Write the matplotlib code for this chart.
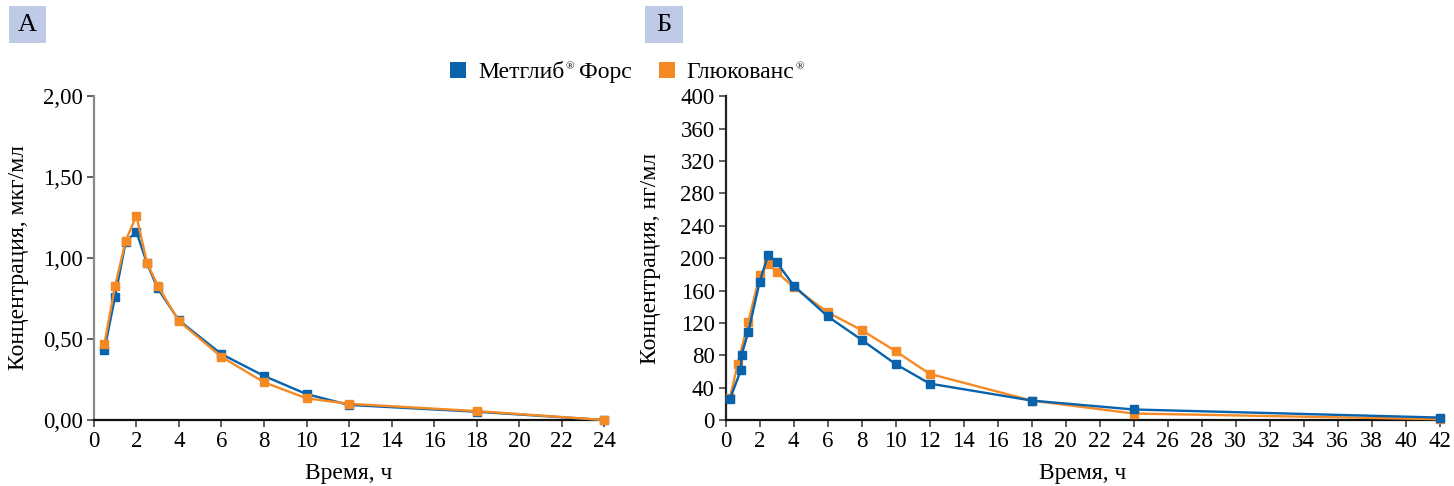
import matplotlib
matplotlib.use("Agg")
import matplotlib.pyplot as plt
from matplotlib.patches import Rectangle
from matplotlib.ticker import FuncFormatter

plt.rcParams['font.family'] = ['Liberation Serif', 'DejaVu Serif']

# ---- data: panel A (metformin, mcg/ml) ----
a_time_blue = [0.5, 1, 1.5, 2, 2.5, 3, 4, 6, 8, 10, 12, 18, 24]
a_blue = [0.435, 0.762, 1.10, 1.163, 0.967, 0.813, 0.615, 0.407, 0.272, 0.160, 0.093, 0.051, 0.0]
a_time_orange = [0.5, 1, 1.5, 2, 2.5, 3, 4, 6, 8, 10, 12, 18, 24]
a_orange = [0.472, 0.827, 1.107, 1.261, 0.972, 0.830, 0.610, 0.390, 0.233, 0.134, 0.100, 0.055, 0.0]

# ---- data: panel B (glibenclamide, ng/ml) ----
b_time_blue = [0.25, 0.9, 0.93, 1.33, 2, 2.5, 3, 4, 6, 8, 10, 12, 18, 24, 42]
b_blue = [26, 62, 80, 109, 171, 204, 195, 166, 128, 99, 69, 45, 24, 13, 3]
b_time_orange = [0.25, 0.7, 1.33, 2, 2.5, 3, 4, 6, 8, 10, 12, 18, 24, 42]
b_orange = [27, 69, 121, 179, 193, 183, 164, 133, 111, 85, 57, 24, 8, 1]

# series names: (brand word, text after the ® sign)
series_names = [("Метглиб", "Форс"), ("Глюкованс", "")]
panel_labels = ["А", "Б"]
x_label = "Время, ч"
y_labels = ["Концентрация, мкг/мл", "Концентрация, нг/мл"]

a_xticks = list(range(0, 25, 2))
a_yticks = [0.0, 0.5, 1.0, 1.5, 2.0]
b_xticks = list(range(0, 43, 2))
b_yticks = list(range(0, 401, 40))

BLUE = '#0862AC'
ORANGE = '#F58A25'
TFS = 16.5
LFS = 17

fig = plt.figure(figsize=(14.54, 4.86), dpi=100)
W, H = 1454, 486

def ax_rect(x0, x1, ytop, ybot):
    return [x0 / W, 1 - ybot / H, (x1 - x0) / W, (ybot - ytop) / H]

axA = fig.add_axes(ax_rect(93.8, 604.3, 96, 420))
axB = fig.add_axes(ax_rect(725.7, 1439.7, 96.3, 420))

def style(ax, yspine_color):
    for s in ['top', 'right']:
        ax.spines[s].set_visible(False)
    ax.spines['left'].set_color(yspine_color)
    ax.spines['left'].set_linewidth(1.6)
    ax.spines['bottom'].set_color('#111111')
    ax.spines['bottom'].set_linewidth(1.6)
    ax.tick_params(axis='both', direction='out', length=5, width=1.2, color='#444444',
                   labelsize=TFS, pad=3)
    ax.set_xlabel(x_label, fontsize=LFS)
    ax.xaxis.set_label_coords(0.5, (420 - 463) / 324)

mk = dict(marker='s', markersize=6.2, linewidth=1.7)

# Panel A: orange over blue
axA.plot(a_time_blue, a_blue, color=BLUE, zorder=3, clip_on=False, **mk)
axA.plot(a_time_orange, a_orange, color=ORANGE, zorder=4, clip_on=False, **mk)
axA.set_xlim(0, 24)
axA.set_ylim(0, 2.0)
axA.set_xticks(a_xticks)
axA.set_yticks(a_yticks)
axA.yaxis.set_major_formatter(FuncFormatter(lambda v, p: f"{v:.2f}".replace('.', ',')))
style(axA, '#8a8a8a')
axA.set_ylabel(y_labels[0], fontsize=LFS)
axA.yaxis.set_label_coords((29 - 93.8) / 510.5, 0.5)

# Panel B: blue over orange
axB.plot(b_time_orange, b_orange, color=ORANGE, zorder=3, clip_on=False, **mk)
axB.plot(b_time_blue, b_blue, color=BLUE, zorder=4, clip_on=False, **mk)
axB.set_xlim(0, 42)
axB.set_ylim(0, 400)
axB.set_xticks(b_xticks)
axB.set_yticks(b_yticks)
style(axB, '#222222')
axB.set_ylabel(y_labels[1], fontsize=LFS)
axB.yaxis.set_label_coords((661 - 725.7) / 714, 0.5)

# Legend (built from pieces so the ® sign can be small and raised)
fig.canvas.draw()
renderer = fig.canvas.get_renderer()

def px_text(x, y, s, **kw):
    t = fig.text(x / W, 1 - y / H, s, **kw)
    return t, t.get_window_extent(renderer)

for (sq_x, txt_x), color, (word, rest) in zip([(450, 478), (659, 686)], [BLUE, ORANGE],
                                              series_names):
    fig.patches.append(Rectangle((sq_x / W, 1 - 78 / H), 16 / W, 16 / H,
                                 transform=fig.transFigure, facecolor=color,
                                 edgecolor='none'))
    t1, e1 = px_text(txt_x, 78, word, fontsize=LFS, ha='left', va='baseline')
    xr = e1.x1 + 1.5
    t2, e2 = px_text(xr, 62, "®", fontsize=8, ha='left', va='top')
    if rest:
        px_text(e2.x1 + 5, 78, rest, fontsize=LFS, ha='left', va='baseline')

# Panel labels
for (bx0, bx1), lab in zip([(9, 46), (645, 683)], panel_labels):
    fig.patches.append(Rectangle((bx0 / W, 1 - 43 / H), (bx1 - bx0) / W, 37 / H,
                                 transform=fig.transFigure, facecolor='#BFCAE6',
                                 edgecolor='none', zorder=0))
    fig.text((bx0 + bx1) / 2 / W, 1 - 25 / H, lab, ha='center', va='center',
             fontsize=19)

fig.savefig('out.png', dpi=100)
